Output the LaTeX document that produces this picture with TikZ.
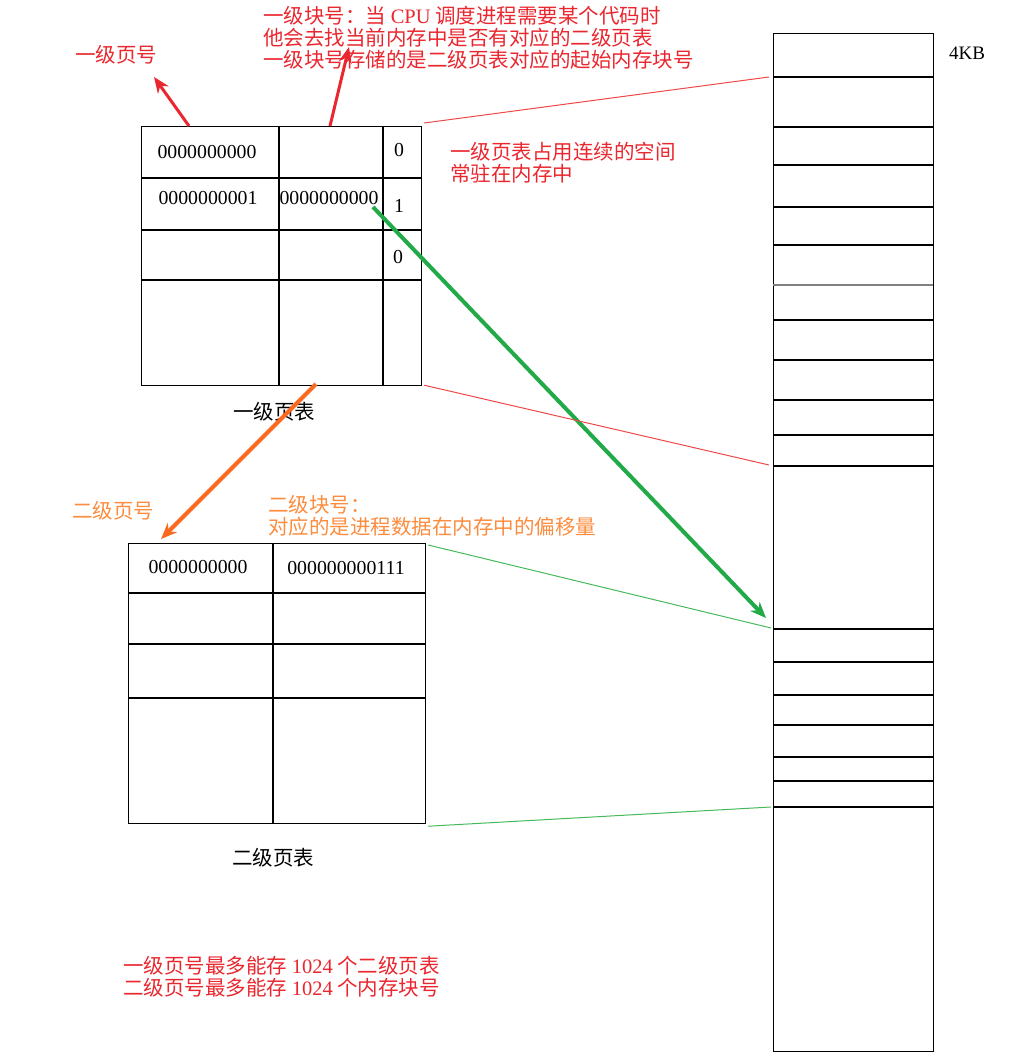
\documentclass[tikz,border=0pt]{standalone}
\usepackage{fontspec}
\setmainfont{Liberation Serif}
\newfontfamily\cjk{Noto Sans CJK SC}
\usetikzlibrary{arrows.meta,positioning,calc}
\definecolor{notered}{RGB}{234,38,46}
\definecolor{linkred}{RGB}{240,72,72}
\definecolor{noteorange}{RGB}{252,140,62}
\definecolor{arroworange}{RGB}{250,105,30}
\definecolor{arrowgreen}{RGB}{34,170,72}
\definecolor{linkgreen}{RGB}{70,185,90}

\begin{document}
\begin{tikzpicture}[x=1pt,y=-1pt,>={Stealth[length=16pt,width=13pt]},
  tablebox/.style={draw,line width=1.2pt,inner sep=0pt,anchor=north west},
  rule/.style={line width=1.2pt},
  num/.style={font=\fontsize{19.8}{20}\selectfont,inner sep=0pt},
  note/.style={font=\fontsize{20.5}{22}\selectfont\cjk,align=left,inner sep=0pt,anchor=west},
  caption/.style={font=\fontsize{20.5}{22}\selectfont\cjk,inner sep=0pt}]
\useasboundingbox (0,0) rectangle (1018,1060);

% first level page table
\node[tablebox,minimum width=280pt,minimum height=259pt] (pt1) at (141,126) {};
\draw[rule] (141,178) -- (421,178) (141,230) -- (421,230) (141,280) -- (421,280);
\draw[rule] (279,126) -- (279,385) (383,126) -- (383,385);
\node[num] (p1a) at (207,152) {0000000000};
\node[num] (p1b) at (208,198) {0000000001};
\node[num] (p1c) at (329,198) {0000000000};
\node[num] (v1) at (399,150) {0};
\node[num] (v2) at (399,206) {1};
\node[num] (v3) at (398,257) {0};
\node[caption] (cap1) at (274,412) {一级页表};

% second level page table
\node[tablebox,minimum width=297pt,minimum height=280pt] (pt2) at (128,543) {};
\draw[rule] (128,593) -- (426,593) (128,644) -- (426,644) (128,698) -- (426,698);
\draw[rule] (273,543) -- (273,823);
\node[num] (p2a) at (198,567) {0000000000};
\node[num] (p2b) at (346,568) {000000000111};
\node[caption] (cap2) at (273,858) {二级页表};

% memory blocks
\node[tablebox,minimum width=160pt,minimum height=1018pt] (mem) at (773,33) {};
\foreach \y in {77,127,165,207,245,320,360,400,435,466,629,662,695,725,757,781,807}
  \draw[rule] (773,\y) -- (933,\y);
\draw[rule,gray] (773,285) -- (933,285);
\node[font=\fontsize{19}{19}\selectfont,inner sep=0pt,anchor=west] (kb) at (949,53) {4KB};

% notes
\node[note,text=notered] (n1) at (75,55) {一级页号};
\node[note,text=notered] (n2) at (263,38) {一级块号：当 \textrm{CPU} 调度进程需要某个代码时\\他会去找当前内存中是否有对应的二级页表\\一级块号存储的是二级页表对应的起始内存块号};
\node[note,text=notered] (n3) at (450,163) {一级页表占用连续的空间\\常驻在内存中};
\node[note,text=noteorange] (n4) at (72,511) {二级页号};
\node[note,text=noteorange] (n5) at (268,516) {二级块号：\\对应的是进程数据在内存中的偏移量};
\node[note,text=notered] (n6) at (123,977) {一级页号最多能存 \textrm{1024} 个二级页表\\二级页号最多能存 \textrm{1024} 个内存块号};

% connectors
\coordinate (a1) at (189,126);
\coordinate (a1tip) at (154,77);
\coordinate (a2) at (330,126);
\coordinate (a2tip) at (349,47);
\coordinate (g1) at (373,207);
\coordinate (g1tip) at (766,618);
\coordinate (o1) at (316,384);
\coordinate (o1tip) at (161,539);
\draw[->,notered,line width=3pt] (a1) -- (a1tip);
\draw[->,notered,line width=3pt] (a2) -- (a2tip);
\draw[->,arrowgreen,line width=4pt] (g1) -- (g1tip);
\draw[->,arroworange,line width=4pt] (o1) -- (o1tip);

\coordinate (m1) at (769,77);
\coordinate (m2) at (769,465);
\coordinate (m3) at (771,628);
\coordinate (m4) at (771,807);
\draw[linkred,line width=1pt] ($(pt1.north east)+(2,-3)$) -- (m1);
\draw[linkred,line width=1pt] ($(pt1.south east)+(2,-1)$) -- (m2);
\draw[linkgreen,line width=1pt] ($(pt2.north east)+(2,2)$) -- (m3);
\draw[linkgreen,line width=1pt] ($(pt2.south east)+(2,2)$) -- (m4);
\end{tikzpicture}
\end{document}
